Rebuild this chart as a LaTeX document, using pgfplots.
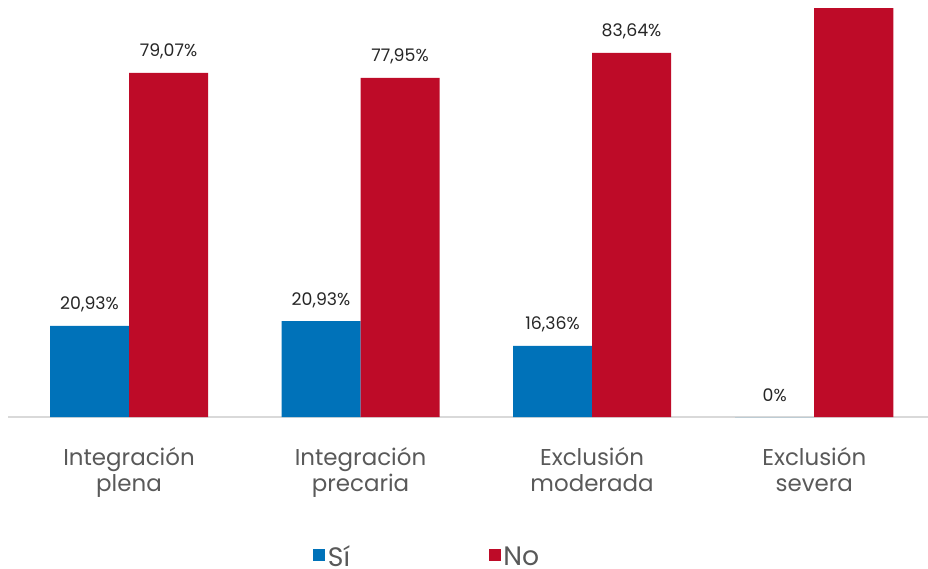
\documentclass[border=0pt]{standalone}
\usepackage{pgfplots}
\pgfplotsset{compat=1.18}
\usepackage{fontspec}
\setmainfont{Poppins}
\definecolor{siblue}{RGB}{0,114,185}
\definecolor{nored}{RGB}{190,11,40}
\definecolor{ticktext}{RGB}{89,89,89}
\definecolor{labeltext}{RGB}{38,38,38}
\definecolor{baseline}{RGB}{217,217,217}
\pgfplotsset{
    sqlegend/.style={legend image code/.code={\fill[##1] (-3pt,-3pt) rectangle (6pt,6pt);}},
}

\begin{document}
\begin{tikzpicture}
\begin{axis}[
    at={(0,0)}, anchor=south west,
    scale only axis, width=690pt, height=306pt,
    ybar=0pt, bar width=59.25pt,
    xmin=-0.5227, xmax=3.4514, ymin=0, ymax=93.75,
    axis x line*=bottom, axis y line=none,
    x axis line style={draw=baseline, line width=1.5pt},
    xtick={0,1,2,2.96},
    xticklabels={{Integración\\plena},{Integración\\precaria},{Exclusión\\moderada},{Exclusión\\severa}},
    xticklabel style={align=center, text=ticktext, yshift=-19pt,
        font=\fontsize{17.2}{20}\selectfont},
    major tick length=0pt,
    ytick=\empty,
    point meta=explicit symbolic,
    nodes near coords,
    every node near coord/.append style={anchor=base, yshift=12pt,
        text=labeltext, font=\fontsize{13}{15}\selectfont},
    legend columns=2,
    legend style={at={(axis description cs:0.3315,-0.344)}, anchor=west,
        draw=none, fill=none, inner sep=0pt,
        font=\fontsize{20}{24}\selectfont, text=ticktext,
        /tikz/every even column/.append style={column sep=102pt}},
]
\addplot[draw=none, fill=siblue, sqlegend] coordinates {
    (0,20.93) [20,93\%]
    (1,22.05) [20,93\%]
    (2,16.36) [16,36\%]
    (2.96,0) [0\%]
};
\addplot[draw=none, fill=nored, sqlegend] coordinates {
    (0,79.07) [79,07\%]
    (1,77.95) [77,95\%]
    (2,83.64) [83,64\%]
    (2.96,100) [{}]
};
\legend{Sí,No}
\end{axis}
\pgfresetboundingbox
\useasboundingbox (-6pt,-113.25pt) rectangle (690pt,312.75pt);
\end{tikzpicture}
\end{document}
